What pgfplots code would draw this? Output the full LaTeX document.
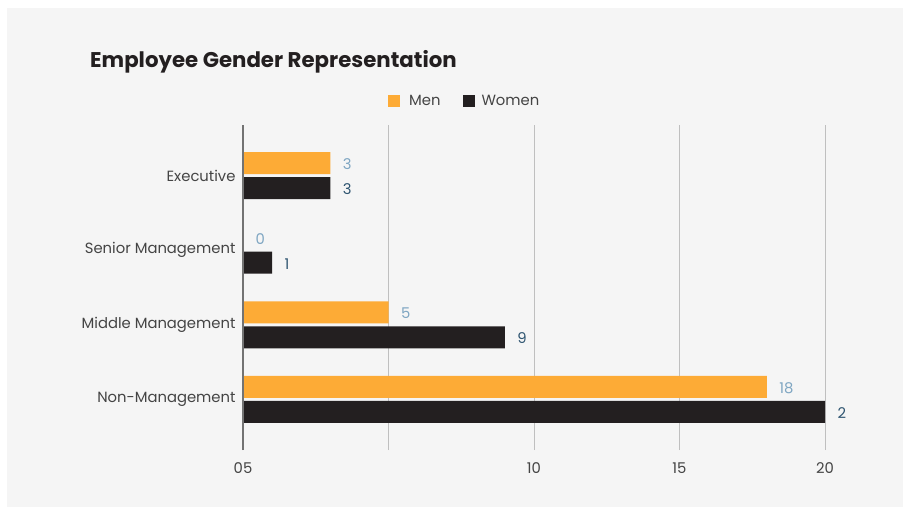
\documentclass[border=0pt]{standalone}
\usepackage{pgfplots}
\pgfplotsset{compat=1.18}
\usepackage{fontspec}
\setmainfont{Poppins}
\definecolor{bgc}{HTML}{F5F5F5}
\definecolor{menc}{HTML}{FDAB36}
\definecolor{womc}{HTML}{231F20}
\definecolor{menlab}{HTML}{7FA6C2}
\definecolor{womlab}{HTML}{2F5571}
\definecolor{txt}{HTML}{444444}

\begin{document}
\begin{tikzpicture}[x=1pt,y=1pt]
\fill[white] (0,0) rectangle (910,507);
\fill[bgc] (7,0) rectangle (903,499);
\node[anchor=base west, inner sep=0, text=womc] at (90,439)
  {\fontsize{21.3}{25}\selectfont\bfseries Employee Gender Representation};
\begin{axis}[
  at={(243pt,57pt)}, anchor=south west,
  scale only axis, width=582pt, height=325pt,
  xmin=0, xmax=20, ymin=-0.68, ymax=3.68,
  xbar, bar width=22pt,
  axis line style={draw=none},
  major tick length=0pt,
  xmajorgrids, grid style={color=black!25, line width=0.8pt},
  xtick={0,5,10,15,20}, xticklabels={05,,10,15,20},
  ytick={0,1,2,3},
  yticklabels={Non-Management,Middle Management,Senior Management,Executive},
  tick label style={text=txt, font=\fontsize{14.8}{17}\selectfont},
  xticklabel style={yshift=-9pt},
  yticklabel style={xshift=-4pt},
  /pgf/number format/assume math mode=true,
  clip=false,
  nodes near coords,
  point meta=explicit symbolic,
  every node near coord/.append style={anchor=west, xshift=9pt, yshift=-1pt, font=\fontsize{14.8}{17}\selectfont},
  legend columns=2,
  legend style={at={(axis description cs:0.381,1.074)}, anchor=center, draw=none, fill=none,
    font=\fontsize{14.8}{17}\selectfont, text=txt,
    /tikz/column 1/.style={column sep=7pt},
    /tikz/column 2/.style={column sep=20pt},
    /tikz/column 3/.style={column sep=5pt}},
  legend image code/.code={\fill[#1] (0pt,-6pt) rectangle (12pt,6pt);},
]
\addplot[fill=menc, draw=none, bar shift=12.5pt,
  every node near coord/.append style={text=menlab}]
  table[x=v, y=c, meta=l] {
  c v l
  0 18 18
  1 5 5
  2 0 0
  3 3 3
};
\addlegendentry{Men}
\addplot[fill=womc, draw=none, bar shift=-12.5pt,
  every node near coord/.append style={text=womlab}]
  table[x=v, y=c, meta=l] {
  c v l
  0 20 2
  1 9 9
  2 1 1
  3 3 3
};
\addlegendentry{Women}
\draw[black!55, line width=1.5pt] (axis cs:0,-0.68) -- (axis cs:0,3.68);
\end{axis}
\end{tikzpicture}
\end{document}
